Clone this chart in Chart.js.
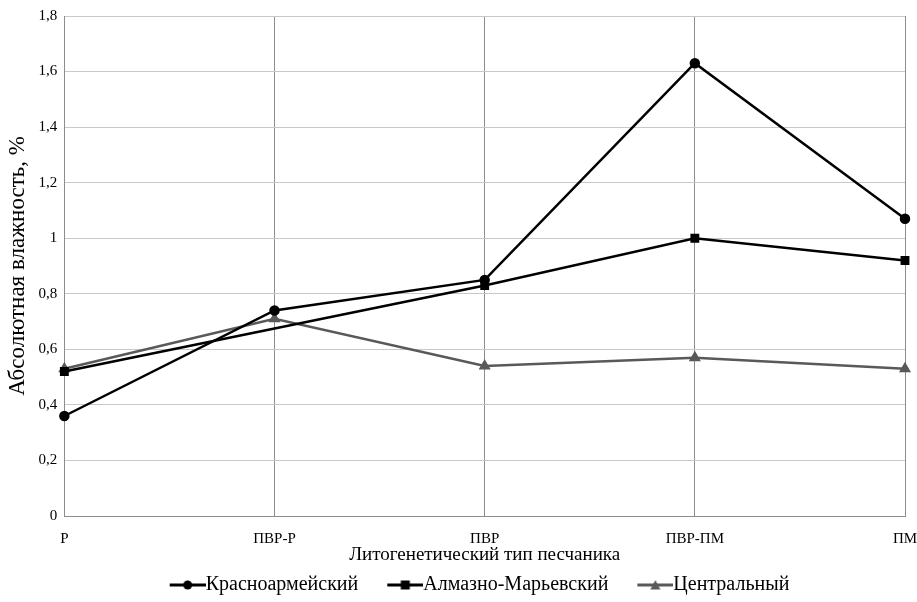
<!DOCTYPE html>
<html><head><meta charset="utf-8">
<script src="https://cdn.jsdelivr.net/npm/chart.js@4/dist/chart.umd.min.js"></script>
<style>html,body{margin:0;padding:0;background:#fff;}#wrap{width:917px;height:602px;}</style>
</head><body><div id="wrap"><canvas id="c" width="917" height="602"></canvas></div>
<script>
const categories = ["Р", "ПВР-Р", "ПВР", "ПВР-ПМ", "ПМ"];
const krasnoarmeysky = [0.36, 0.74, 0.85, 1.63, 1.07];
const almaznoMaryevsky = [0.52, null, 0.83, 1.00, 0.92];
const centralny = [0.53, 0.71, 0.54, 0.57, 0.53];
const yTicks = [0, 0.2, 0.4, 0.6, 0.8, 1, 1.2, 1.4, 1.6, 1.8];

const SERIF = "'Liberation Serif', 'Times New Roman', serif";
const ICON_PAD = 36, ICON_LEN = 36;

function legendIcon(color, style) {
  const c = document.createElement('canvas');
  c.width = ICON_PAD + ICON_LEN; c.height = 12;
  const g = c.getContext('2d');
  const x0 = ICON_PAD, cx = ICON_PAD + ICON_LEN / 2;
  g.strokeStyle = color; g.fillStyle = color; g.lineWidth = 3;
  g.beginPath(); g.moveTo(x0, 6); g.lineTo(x0 + ICON_LEN, 6); g.stroke();
  g.beginPath();
  if (style === 'circle') { g.arc(cx, 6, 4.5, 0, Math.PI * 2); g.fill(); }
  else if (style === 'rect') { g.fillRect(cx - 4.5, 1.5, 9, 9); }
  else { g.moveTo(cx, 1); g.lineTo(cx + 5, 10.5); g.lineTo(cx - 5, 10.5); g.closePath(); g.fill(); }
  return c;
}
const icons = [legendIcon('#000', 'circle'), legendIcon('#000', 'rect'), legendIcon('#595959', 'triangle')];

const legendShift = {
  id: 'legendShift',
  afterLayout(chart) {
    const lg = chart.legend;
    if (lg) { lg.left += 14; lg.right += 14; lg.top += 3; lg.bottom += 3; }
  }
};

new Chart(document.getElementById('c'), {
  type: 'line',
  data: {
    labels: categories,
    datasets: [
      { label: 'Красноармейский', data: krasnoarmeysky, borderColor: '#000', backgroundColor: '#000',
        borderWidth: 2.5, pointStyle: 'circle', pointRadius: 4, tension: 0 },
      { label: 'Алмазно-Марьевский', data: almaznoMaryevsky, borderColor: '#000', backgroundColor: '#000',
        borderWidth: 2.5, pointStyle: 'rect', pointRadius: 4.5, spanGaps: true, tension: 0,
        segment: { borderWidth: ctx => (ctx.p0DataIndex === 0 && ctx.p1DataIndex === 2) ? 1.5 : 2.5 } },
      { label: 'Центральный', data: centralny, borderColor: '#595959', backgroundColor: '#595959',
        borderWidth: 2.5, pointStyle: 'triangle', pointRadius: 4.5, tension: 0 }
    ]
  },
  plugins: [legendShift],
  options: {
    responsive: false, animation: false,
    layout: { padding: { left: 0, right: 12, top: 7, bottom: 0 } },
    plugins: {
      tooltip: { enabled: false },
      legend: {
        position: 'bottom',
        labels: {
          usePointStyle: true,
          pointStyleWidth: ICON_PAD + ICON_LEN - 20,
          generateLabels: chart => chart.data.datasets.map((d, i) => ({
            text: d.label, pointStyle: icons[i], fillStyle: d.borderColor, strokeStyle: d.borderColor,
            lineWidth: 0, datasetIndex: i, hidden: false
          })),
          color: '#000',
          font: { family: SERIF, size: 20 },
          padding: 3, boxHeight: 12
        }
      }
    },
    scales: {
      x: {
        offset: false,
        afterFit: s => { s.paddingRight = 0; },
        grid: { color: '#8c8c8c', lineWidth: 1, drawTicks: false },
        border: { color: '#8c8c8c' },
        ticks: { color: '#000', padding: 22.5, maxRotation: 0, autoSkip: false,
          font: { family: SERIF, size: 15, lineHeight: '1px' } },
        title: { display: true, text: 'Литогенетический тип песчаника', color: '#000', padding: { top: -16.5, bottom: 4.5 },
          font: { family: SERIF, size: 19, lineHeight: 1 } }
      },
      y: {
        min: 0, max: 1.8,
        afterBuildTicks: s => { s.ticks = yTicks.map(v => ({ value: v })); },
        grid: { color: '#c8c8c8', lineWidth: 1, drawTicks: false },
        border: { color: '#8c8c8c' },
        ticks: { color: '#000', padding: 7,
          callback: v => String(v).replace('.', ','),
          font: { family: SERIF, size: 15 } },
        title: { display: true, text: 'Абсолютная влажность, %', color: '#000', padding: { top: 4, bottom: 0 },
          font: { family: SERIF, size: 23 } }
      }
    }
  }
});
</script>
</body></html>
